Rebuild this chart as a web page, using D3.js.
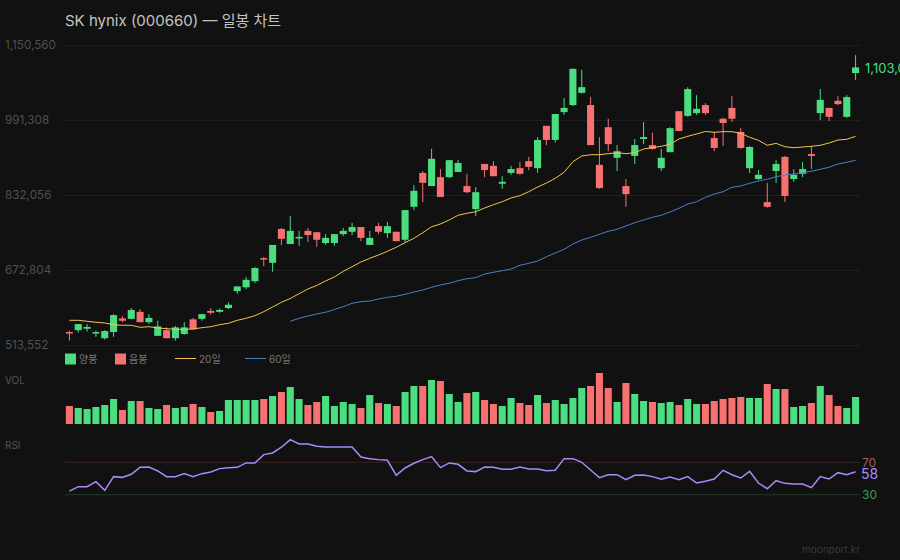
<!DOCTYPE html>
<html lang="ko"><head><meta charset="utf-8">
<script src="https://cdn.jsdelivr.net/npm/d3@7"></script>
<style>
html,body{margin:0;padding:0;background:#111111;overflow:hidden}
svg{display:block;font-family:Inter,"Noto Sans CJK KR",sans-serif}
</style></head><body><svg id="c" width="900" height="560"></svg>
<script>
// prices in thousand KRW
const opens=[541,545,548,538,528,541,570,569,584,562,533,545,528,537,568,569,586,584,592,628,636,649,698,688,760,728,740,756,753,730,730,749,754,764,726,766,751,754,737,807,879,851,870,870,881,851,802,898,894,856,879,889,904,889,979,949,1008,1023,1049,1023,896,976,911,851,915,951,938,889,923,1010,1000,1006,1023,953,994,1017,966,889,866,817,883,913,866,877,919,1006,1017,1032,998,1091];
const highs=[544,558,558,544,545,579,575,592,590,579,565,551,554,562,571,579,592,591,604,638,658,679,700,726,762,787,756,762,753,749,749,762,773,764,756,773,775,754,800,853,883,930,887,906,906,877,849,898,904,872,894,902,913,955,979,1004,1038,1100,1098,1040,955,994,938,866,951,987,964,930,976,1010,1061,1044,1027,966,996,1042,974,936,885,858,906,915,887,902,936,1057,1017,1042,1044,1129];
const lows=[523,540,542,531,525,531,562,568,562,558,533,528,523,535,547,565,578,582,590,622,632,645,681,669,726,728,724,732,722,726,724,745,747,734,726,749,741,734,732,800,817,851,828,868,881,836,787,870,872,845,875,875,885,879,938,943,1002,1021,1047,938,845,925,883,807,898,940,928,883,923,968,998,1002,1002,925,936,987,930,879,864,805,858,817,860,870,887,991,989,1023,996,1076];
const closes=[538,558,552,541,543,577,565,588,562,571,553,528,551,551,547,579,582,588,599,638,652,677,696,726,739,756,743,747,737,741,749,756,764,741,741,754,766,734,800,841,858,909,828,906,900,838,838,885,872,860,887,877,892,949,949,1004,1017,1100,1061,938,847,940,925,834,938,955,930,911,974,968,1057,1015,1006,932,985,994,932,934,875,807,898,830,875,887,915,1034,998,1025,1040,1103];
const ma20=[566.0,566.0,563.9,561.8,560.3,556.6,555.4,555.4,551.1,552.4,549.7,548.2,546.9,546.9,547.5,550.3,552.4,556.6,559.6,566.0,570.2,575.8,584.3,594.2,604.2,612.3,622.5,632.5,639.9,649.5,658.0,670.0,679.8,689.8,697.6,704.7,712.5,721.0,730.8,740.1,752.0,764.7,770.5,779.0,789.0,793.2,796.6,804.4,811.5,817.8,825.7,830.6,839.1,849.0,857.5,867.5,880.3,902.8,914.9,917.6,917.6,919.8,921.9,919.8,921.9,929.7,932.5,935.5,939.7,951.0,956.7,961.6,966.9,965.2,966.5,966.5,963.1,954.6,948.2,937.6,941.8,934.6,932.5,934.0,935.5,937.6,942.5,948.8,950.3,956.7];
const ma60=[null,null,null,null,null,null,null,null,null,null,null,null,null,null,null,null,null,null,null,null,null,null,null,null,null,563.9,570.2,575.1,579.4,583.0,588.9,594.9,602.1,605.5,607.0,611.2,614.8,617.0,621.2,626.1,630.3,636.1,641.0,644.6,650.1,654.3,656.5,664.3,667.9,671.3,674.9,682.8,687.0,691.9,701.0,708.9,716.8,728.0,736.5,742.2,748.6,755.0,759.2,766.2,773.2,779.0,784.7,789.0,796.0,803.8,812.9,817.8,826.8,834.2,839.1,848.4,851.2,856.9,861.8,865.4,870.9,874.5,876.6,879.4,882.4,886.6,890.9,897.9,901.5,905.7];
const volumes=[54,48,45,51,57,75,42,69,69,48,45,57,48,51,60,51,36,39,72,72,72,72,75,84,96,111,75,57,66,84,54,66,60,48,87,63,60,54,96,114,114,132,129,90,66,93,96,72,60,54,78,63,57,87,63,72,60,78,108,114,153,108,66,123,90,69,66,63,66,57,75,60,60,69,75,78,81,78,78,120,105,105,51,54,63,114,87,54,48,81];
const rsi=[34.5,39.9,39.9,46.1,35.4,52.3,51.4,55.2,63.8,64.2,59.3,52.3,52.3,56,52.3,56,58,62.2,63.4,63.8,69.2,69.2,79.5,81.5,88.6,98,92.7,92.7,89.8,89,89,89,89,76.6,74.5,73.3,72.5,53.9,63,68.8,73.3,77,63.4,69.2,67.5,59.3,58.5,64.2,63.8,61.3,61.3,64.2,61.8,61.8,59.7,60.1,74.5,74.5,70,60.5,51,54.7,54.7,48.6,53.9,54.3,52.3,49,51.9,48.6,52.3,44.4,46.5,49.4,60.1,54.7,50.6,58.9,44.4,37.4,47.3,44,43.2,43.2,38.7,52.3,49.4,57.2,54.7,58.3];
const priceTicks=[1150.56,991.308,832.056,672.804,513.552];
const rsiLevels=[70,30];
const titleText="SK hynix (000660) — 일봉 차트";
const UP="#4ade80",DOWN="#f87171",C20="#f5c451",C60="#4a7fc9",CRSI="#a78bfa";

const svg=d3.select("#c");
svg.append("rect").attr("width",900).attr("height",560).attr("fill","#111111");
const idx=d3.range(closes.length);
const x=d3.scaleBand().domain(idx).range([65,860]).paddingInner(0.2).paddingOuter(0.1);
const cx=i=>x(i)+x.bandwidth()/2;
const y=d3.scaleLinear().domain([513.552,1150.56]).range([345,45]);
const yV=d3.scaleLinear().domain([0,d3.max(volumes)]).range([424,373]);
const yR=d3.scaleLinear().domain([30,70]).range([494.7,462.3]);
const col=i=>closes[i]>=opens[i]?UP:DOWN;
const won=d3.format(",");

svg.append("text").attr("x",65).attr("y",25.5).attr("fill","#c4c4c4").attr("font-size",15).text(titleText);

const gAxis=svg.append("g").attr("transform","translate(65,0)")
  .call(d3.axisLeft(y).tickValues(priceTicks).tickSize(-795).tickPadding(0).tickFormat(d=>won(Math.round(d*1000))));
gAxis.select(".domain").remove();
gAxis.selectAll("line").attr("stroke","#1f1f1f");
gAxis.selectAll("text").attr("x",-60).attr("text-anchor","start").attr("fill","#505050")
  .attr("font-size",11.7).attr("font-family",'Inter,"Noto Sans CJK KR",sans-serif');

const cand=svg.append("g").selectAll("g").data(idx).join("g");
cand.append("line").attr("x1",cx).attr("x2",cx).attr("y1",i=>y(highs[i])).attr("y2",i=>y(lows[i]))
  .attr("stroke",col).attr("stroke-width",1);
cand.append("rect").attr("x",i=>x(i)).attr("width",x.bandwidth())
  .attr("y",i=>y(Math.max(opens[i],closes[i])))
  .attr("height",i=>Math.max(1.5,Math.abs(y(opens[i])-y(closes[i])))).attr("fill",col);

const line=(sc)=>d3.line().defined(d=>d!=null).x((d,i)=>cx(i)).y(d=>sc(d));
svg.append("path").attr("d",line(y)(ma20)).attr("fill","none").attr("stroke",C20).attr("stroke-width",1);
svg.append("path").attr("d",line(y)(ma60)).attr("fill","none").attr("stroke",C60).attr("stroke-width",1);

svg.append("text").attr("x",865).attr("y",73).attr("fill",UP).attr("font-size",13).text(won(closes[closes.length-1]*1000));

// legend
const leg=svg.append("g").attr("font-size",10).attr("fill","#777777");
[["양봉",UP,65],["음봉",DOWN,115]].forEach(([t,c,px])=>{
  leg.append("rect").attr("x",px).attr("y",353.5).attr("width",11).attr("height",11).attr("fill",c);
  leg.append("text").attr("x",px+14).attr("y",363).text(t);
});
[["20일",C20,175],["60일",C60,245]].forEach(([t,c,px])=>{
  leg.append("line").attr("x1",px).attr("x2",px+21).attr("y1",358.5).attr("y2",358.5).attr("stroke",c).attr("stroke-width",1);
  leg.append("text").attr("x",px+24).attr("y",363).text(t);
});

// volume
svg.append("text").attr("x",5).attr("y",384).attr("fill","#555555").attr("font-size",10).text("VOL");
svg.append("g").selectAll("rect").data(idx).join("rect")
  .attr("x",i=>x(i)).attr("width",x.bandwidth())
  .attr("y",i=>yV(volumes[i])).attr("height",i=>yV(0)-yV(volumes[i])).attr("fill",col);

// rsi
svg.append("text").attr("x",5).attr("y",449).attr("fill","#555555").attr("font-size",10).text("RSI");
const rc={70:["#3d2522","#a85a55"],30:["#21392a","#3f9a61"]};
rsiLevels.forEach(v=>{
  svg.append("line").attr("x1",65).attr("x2",860).attr("y1",yR(v)).attr("y2",yR(v)).attr("stroke",rc[v][0]).attr("stroke-width",1);
  svg.append("text").attr("x",862).attr("y",yR(v)+(v===70?5:4.5)).attr("fill",rc[v][1]).attr("font-size",12).text(v);
});
svg.append("path").attr("d",line(yR)(rsi)).attr("fill","none").attr("stroke",CRSI).attr("stroke-width",1.5);
svg.append("text").attr("x",861).attr("y",478.7).attr("fill",CRSI).attr("font-size",14).text(Math.round(rsi[rsi.length-1]));

svg.append("text").attr("x",860).attr("y",553).attr("text-anchor","end").attr("fill","#3a3a3a").attr("font-size",10).text("moonport.kr");
</script></body></html>
